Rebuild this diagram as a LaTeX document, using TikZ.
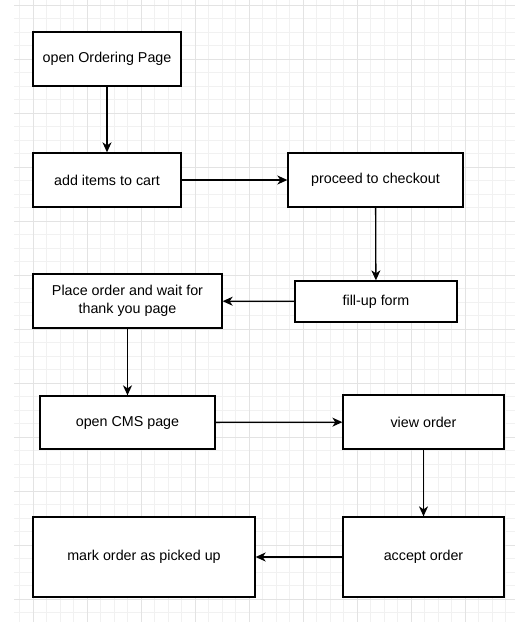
\documentclass[tikz,border=0pt]{standalone}
\usepackage{fontspec}
\setmainfont{Liberation Sans}
\usetikzlibrary{arrows.meta}
\begin{document}
\begin{tikzpicture}[x=1pt,y=-1pt]
    \useasboundingbox[fill=white] (0,0) rectangle (515,626);
    % background grid
    \foreach \gx in {19.5,33,...,515}
        \draw[gray!11,line width=0.7pt] (\gx,0) -- (\gx,622);
    \foreach \gy in {5,18.5,...,622}
        \draw[gray!11,line width=0.7pt] (14,\gy) -- (515,\gy);
    \foreach \gx in {33,87,...,515}
        \draw[gray!22,line width=0.7pt] (\gx,0) -- (\gx,622);
    \foreach \gy in {5,59,...,622}
        \draw[gray!22,line width=0.7pt] (14,\gy) -- (515,\gy);
    \begin{scope}[every node/.style={rectangle,draw,fill=white,line width=1.3pt,align=center,inner sep=2pt,font=\fontsize{14.3}{17.5}\selectfont}]
    \node[minimum width=148,minimum height=54] (open) at (107,59) {open Ordering Page};
    \node[minimum width=148,minimum height=54] (add) at (107,180) {add items to cart};
    \node[minimum width=175,minimum height=54] (checkout) at (375.5,180) {proceed to checkout};
    \node[minimum width=162,minimum height=41] (form) at (376,301.5) {fill-up form};
    \node[minimum width=189,minimum height=54] (place) at (127.5,301) {Place order and wait for\\thank you page};
    \node[minimum width=175,minimum height=53] (cms) at (127.5,422.5) {open CMS page};
    \node[minimum width=161,minimum height=54] (view) at (423.5,422) {view order};
    \node[minimum width=161,minimum height=80] (accept) at (423.5,557) {accept order};
    \node[minimum width=222,minimum height=80] (mark) at (144,557) {mark order as picked up};
    \end{scope}
    \begin{scope}[every edge/.style={draw=black,line width=1.3pt,-{Stealth[length=10pt,width=9pt,inset=3pt]}}]
    \path (open) edge (add)
          (add) edge (checkout)
          (checkout) edge (form)
          (form) edge (place)
          (place) edge (cms)
          (cms) edge (view)
          (view) edge (accept)
          (accept) edge (mark);
    \end{scope}
\end{tikzpicture}
\end{document}
